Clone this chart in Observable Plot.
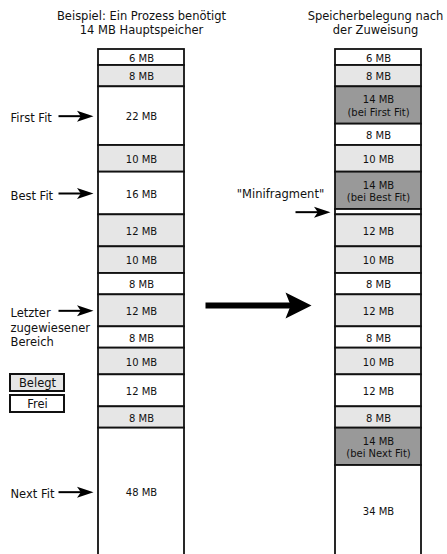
<!DOCTYPE html>
<html><head><meta charset="utf-8">
<script src="https://cdn.jsdelivr.net/npm/d3@7"></script>
<script src="https://cdn.jsdelivr.net/npm/@observablehq/plot@0.6"></script>
<style>body{margin:0;background:#fff;overflow:hidden}</style>
</head><body><div id="chart"></div>
<script>
// ---- data ----
const leftSizes  = [6, 8, 22, 10, 16, 12, 10, 8, 12, 8, 10, 12, 8, 48];
const leftStates = ["frei","belegt","frei","belegt","frei","belegt","belegt","frei","belegt","frei","belegt","frei","belegt","frei"];
const rightSizes  = [6, 8, 14, 8, 10, 14, 2, 12, 10, 8, 12, 8, 10, 12, 8, 14, 34];
const rightStates = ["frei","belegt","neu","frei","belegt","neu","frei","belegt","belegt","frei","belegt","frei","belegt","frei","belegt","neu","frei"];
const rightLabels = ["6 MB","8 MB","14 MB\n(bei First Fit)","8 MB","10 MB","14 MB\n(bei Best Fit)","","12 MB","10 MB","8 MB","12 MB","8 MB","10 MB","12 MB","8 MB","14 MB\n(bei Next Fit)","34 MB"];
const pointerLabels  = ["First Fit", "Best Fit", "Letzter\nzugewiesener\nBereich", "Next Fit"];
const pointerTargets = [2, 4, 8, 13];
const fragmentLabel = "\"Minifragment\"";
const fragmentTarget = 6;
const titles = ["Beispiel: Ein Prozess benötigt\n14 MB Hauptspeicher", "Speicherbelegung nach\nder Zuweisung"];
const legendLabels = ["Belegt", "Frei"];
const legendStates = ["belegt", "frei"];

// ---- layout ----
const K = 8 / 3, TOP = 49;
const Y = p => (p - TOP) / K;           // pixel -> MB (annotations only)
const colX = {links: [98, 184], rechts: [335, 421]};
const fills = {frei: "#ffffff", belegt: "#e6e6e6", neu: "#999999"};
const FONT = "DejaVu Sans";

function column(sizes, states, labels, col) {
  const ends = d3.cumsum(sizes);
  return sizes.map((s, i) => ({col, start: ends[i] - s, end: ends[i], mid: ends[i] - s / 2,
    state: states[i], label: labels[i], x1: colX[col][0], x2: colX[col][1],
    xc: (colX[col][0] + colX[col][1]) / 2}));
}
const blocks = [
  ...column(leftSizes, leftStates, leftSizes.map(s => s + " MB"), "links"),
  ...column(rightSizes, rightStates, rightLabels, "rechts")
];
const leftBlocks = blocks.filter(d => d.col === "links");
const rightBlocks = blocks.filter(d => d.col === "rechts");

const pointers = pointerLabels.map((t, i) => ({text: t, y: leftBlocks[pointerTargets[i]].mid}));
const frag = {text: fragmentLabel, y: rightBlocks[fragmentTarget].mid};

const legend = legendLabels.map((t, i) => ({text: t, state: legendStates[i],
  y1: Y(374 + i * 21), y2: Y(391 + i * 21)}));

const titleRows = titles.map((t, i) => ({text: t, x: i === 0 ? 141 : 375}));

const headSmall = {draw(ctx, size) { const r = Math.sqrt(size / Math.PI);
  ctx.moveTo(0, 0); ctx.lineTo(-3 * r, -r); ctx.lineTo(-2.3 * r, 0); ctx.lineTo(-3 * r, r); ctx.closePath(); }};
const headBig = {draw(ctx, size) { const r = Math.sqrt(size / Math.PI);
  ctx.moveTo(0, 0); ctx.lineTo(-2 * r, -r); ctx.lineTo(-1.6 * r, 0); ctx.lineTo(-2 * r, r); ctx.closePath(); }};

const bigY = Y(305);

const chart = Plot.plot({
  width: 447, height: 554, margin: 0,
  style: {fontFamily: FONT, background: "#fff", color: "#111"},
  x: {domain: [0, 447], range: [0, 447], axis: null},
  y: {domain: [0, 190], range: [TOP, TOP + 190 * K], axis: null},
  marks: [
    Plot.rect(blocks, {x1: "x1", x2: "x2", y1: "start", y2: "end", fill: d => fills[d.state], stroke: "#111", strokeWidth: 1.8}),
    Plot.text(blocks, {x: "xc", y: "mid", text: "label", fontSize: 10, lineHeight: 1.27, fill: "#111"}),
    Plot.text(titleRows, {x: "x", frameAnchor: "top", dy: 10, text: "text", fontSize: 11.5, lineHeight: 1.22, lineAnchor: "top", fill: "#111"}),
    // pointer labels + arrows
    Plot.text(pointers, {x: 10, y: "y", text: "text", textAnchor: "start", lineAnchor: "top", dy: -4, fontSize: 11.5, lineHeight: 1.26, fill: "#111"}),
    Plot.link(pointers, {x1: 58, x2: 82, y1: "y", y2: "y", stroke: "#000", strokeWidth: 2}),
    Plot.dot(pointers, {x: 93, y: "y", r: 5.5, symbol: headSmall, fill: "#000", stroke: "none"}),
    // minifragment
    Plot.text([frag], {x: 280, y: d => d.y - Y(211.5 - 49 + 49) + Y(194), text: "text", fontSize: 11.5, fill: "#111"}),
    Plot.link([frag], {x1: 295, x2: 319, y1: "y", y2: "y", stroke: "#000", strokeWidth: 2}),
    Plot.dot([frag], {x: 330, y: "y", r: 5.5, symbol: headSmall, fill: "#000", stroke: "none"}),
    // big arrow
    Plot.link([0], {x1: 205, x2: 292, y1: bigY, y2: bigY, stroke: "#000", strokeWidth: 6}),
    Plot.dot([0], {x: 311, y: bigY, r: 13, symbol: headBig, fill: "#000", stroke: "none"}),
    // legend
    Plot.rect(legend, {x1: 10, x2: 64, y1: "y1", y2: "y2", fill: d => fills[d.state], stroke: "#111", strokeWidth: 2}),
    Plot.text(legend, {x: 37, y: d => (d.y1 + d.y2) / 2, text: "text", fontSize: 11.5, fill: "#111"})
  ]
});
document.getElementById("chart").append(chart);
</script>
</body></html>
